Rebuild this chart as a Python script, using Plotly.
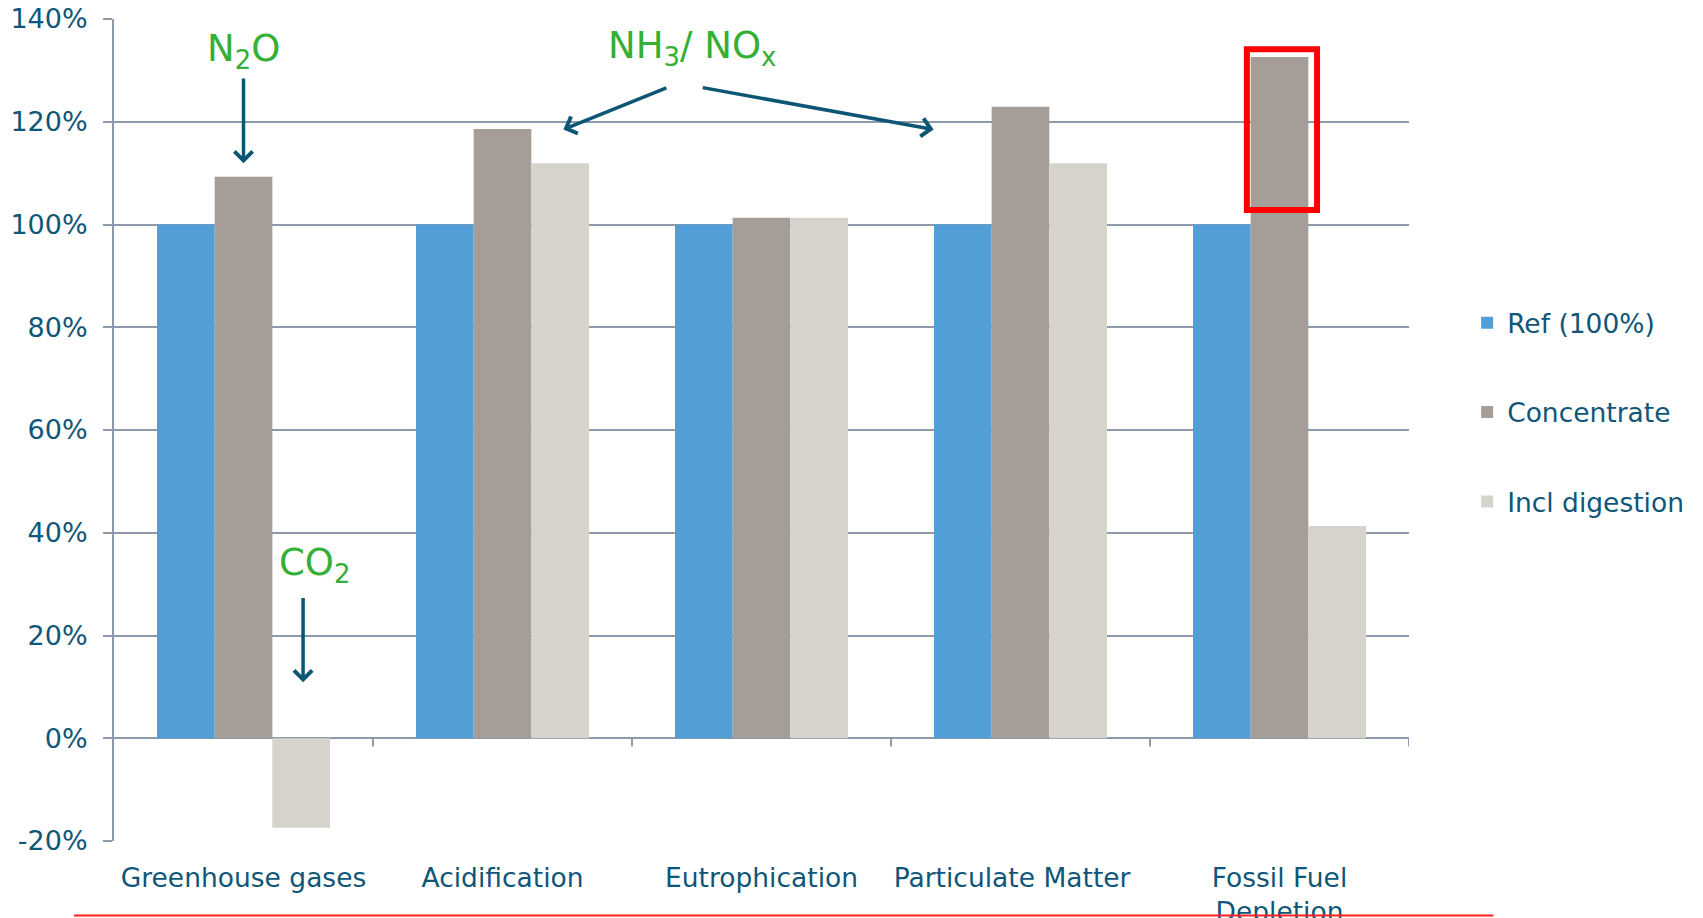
import plotly.graph_objects as go

categories = ["Greenhouse gases", "Acidification", "Eutrophication", "Particulate Matter", "Fossil Fuel<br>Depletion"]
x_tick_labels = ["Greenhouse gases", "Acidification", "Eutrophication", "Particulate Matter\u00a0\u00a0", "Fossil Fuel<br>Depletion"]
ref_values = [100, 100, 100, 100, 100]
concentrate_values = [109.3, 118.6, 101.3, 122.9, 132.6]
digestion_values = [-17.4, 111.9, 101.3, 111.9, 41.3]
series_names = ["Ref (100%)", "Concentrate", "Incl digestion"]
series_colors = ["#519fd6", "#a59d97", "#d6d3cc"]
y_ticks = [-20, 0, 20, 40, 60, 80, 100, 120, 140]
y_tick_labels = ["-20%", "0%", "20%", "40%", "60%", "80%", "100%", "120%", "140%"]

TEXT = "#0f5678"
GRID = "#8d9aab"
GREEN = "#33b035"
ARROW = "#0d5575"
FONT = "DejaVu Sans"

fig = go.Figure()
for name, vals, col in zip(series_names, [ref_values, concentrate_values, digestion_values], series_colors):
    fig.add_trace(go.Bar(x=categories, y=vals, name=name, marker_color=col,
                         marker_line_width=0, legendgroup=name))

fig.update_layout(
    width=1703, height=918,
    margin=dict(l=114, r=294, t=19, b=77, autoexpand=False),
    paper_bgcolor="white", plot_bgcolor="white",
    barmode="group", bargap=0.332, bargroupgap=0,
    font=dict(family=FONT, size=26, color=TEXT),
    legend=dict(x=1.0449, y=0.5214, xanchor="left", yanchor="middle",
                tracegroupgap=52, font=dict(size=26.5, color=TEXT),
                bgcolor="rgba(0,0,0,0)"),
)
fig.update_xaxes(type="category", range=[-0.5, 4.5], showgrid=False, showline=False,
                 tickmode="array", tickvals=categories, ticktext=x_tick_labels,
                 ticks="", zeroline=False, tickfont=dict(size=26.5, color=TEXT),
                 ticklabelstandoff=18, automargin=False)
fig.update_yaxes(range=[-20, 140], tickvals=y_ticks, ticktext=y_tick_labels,
                 showgrid=True, gridcolor=GRID, gridwidth=2,
                 showline=True, linecolor=GRID, linewidth=2,
                 ticks="outside", ticklen=9, tickcolor=GRID, tickwidth=2,
                 zeroline=True, zerolinecolor=GRID, zerolinewidth=2,
                 tickfont=dict(size=27, color=TEXT), ticklabelstandoff=10, automargin=False)

# category boundary ticks on the zero line
for i in range(len(categories)):
    fig.add_shape(type="line", xref="x", yref="y", x0=i + 0.5, x1=i + 0.5, y0=0, y1=-1.6,
                  line=dict(color=GRID, width=2), layer="below")

# highlight box
fig.add_shape(type="rect", xref="x", yref="y", x0=3.874, x1=4.145, y0=102.8, y1=134.1,
              line=dict(color="#ff0000", width=6))
# red line at bottom
fig.add_shape(type="line", xref="paper", yref="paper", x0=-0.0309, x1=1.0652, y0=-0.0905, y1=-0.0905,
              line=dict(color="#ff2020", width=2))

# labels
labels = [("N<sub>2</sub>O", 0.0, 133.7), ("NH<sub>3</sub>/ NO<sub>x</sub>", 1.730, 134.4),
          ("CO<sub>2</sub>", 0.275, 33.7)]
for txt, x, y in labels:
    fig.add_annotation(x=x, y=y, xref="x", yref="y", text=txt, showarrow=False,
                       font=dict(size=37, color=GREEN, family=FONT), xanchor="center", yanchor="middle")

# arrows (tail -> head)
arrows = [((0.0, 128.7), (0.0, 111.9)),
          ((1.6387, 126.7), (1.2351, 118.5)),
          ((1.7673, 126.7), (2.6645, 118.5)),
          ((0.230, 27.6), (0.230, 10.9))]
for (ax, ay), (x, y) in arrows:
    fig.add_annotation(x=x, y=y, ax=ax, ay=ay, xref="x", yref="y", axref="x", ayref="y",
                       text="", showarrow=True, arrowhead=4, arrowsize=1.0, arrowwidth=3.5,
                       arrowcolor=ARROW, standoff=0)

fig.write_html("out.html", config={"displayModeBar": False},
               post_script="document.body.style.margin='0';")
